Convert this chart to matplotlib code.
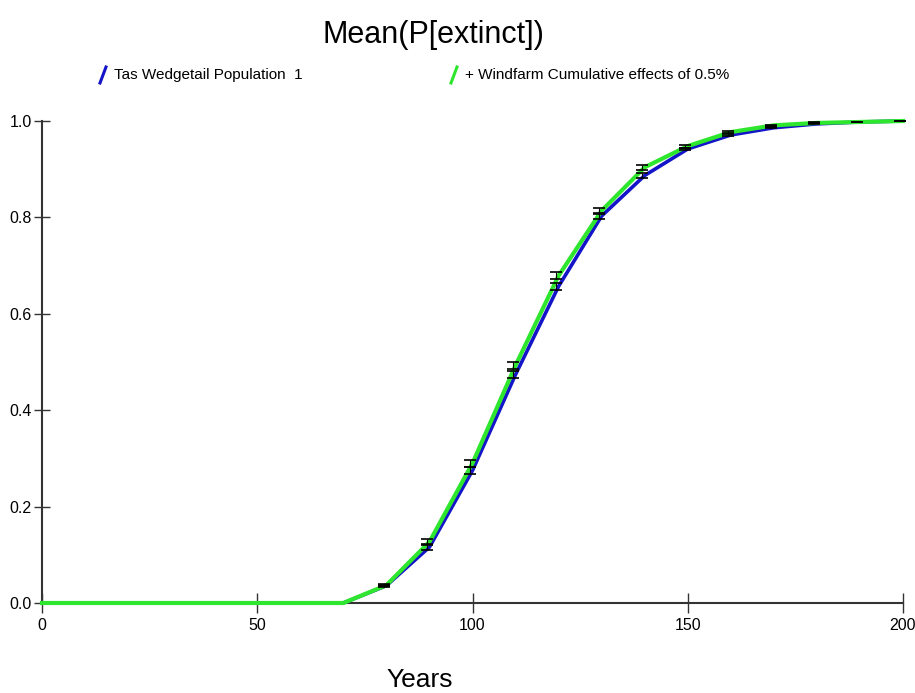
import matplotlib
matplotlib.use("Agg")
import matplotlib.pyplot as plt
from matplotlib.lines import Line2D

years = [0, 10, 20, 30, 40, 50, 60, 70, 80, 90, 100, 110, 120, 130, 140, 150, 160, 170, 180, 190, 200]
base = [0, 0, 0, 0, 0, 0, 0, 0, 0.036, 0.116, 0.275, 0.474, 0.657, 0.803, 0.887, 0.942, 0.971, 0.986, 0.994, 0.998, 1.0]
windfarm = [0, 0, 0, 0, 0, 0, 0, 0, 0.037, 0.127, 0.290, 0.493, 0.679, 0.814, 0.904, 0.948, 0.977, 0.991, 0.996, 0.998, 1.0]
err_base = [0, 0, 0, 0, 0, 0, 0, 0, 0.002, 0.006, 0.007, 0.007, 0.007, 0.006, 0.005, 0.003, 0.002, 0.001, 0.001, 0.0005, 0.0]
err_wind = [0, 0, 0, 0, 0, 0, 0, 0, 0.002, 0.006, 0.007, 0.007, 0.007, 0.006, 0.005, 0.003, 0.002, 0.001, 0.001, 0.0005, 0.0]
series_labels = ["Tas Wedgetail Population  1", "+ Windfarm Cumulative effects of 0.5%"]
xticks = [0, 50, 100, 150, 200]
yticks = [0.0, 0.2, 0.4, 0.6, 0.8, 1.0]

FONT = ['Liberation Sans Narrow', 'Liberation Sans', 'DejaVu Sans']
plt.rcParams['font.family'] = FONT

BLUE = '#1414c8'
GREEN = '#2ee62e'

fig = plt.figure(figsize=(9.15, 6.93), dpi=100)
ax = fig.add_axes([42/915, 1-603/693, (903-42)/915, (603-121)/693])

ax.plot(years, base, color=BLUE, lw=2.6, zorder=3, clip_on=False, solid_joinstyle='round')
ax.plot(years, windfarm, color=GREEN, lw=3.0, zorder=4, clip_on=False, solid_joinstyle='round')

idx = [i for i, y in enumerate(years) if y >= 80]
ax.errorbar([years[i] - 0.6 for i in idx], [base[i] for i in idx], yerr=[err_base[i] for i in idx],
            fmt='none', ecolor='black', elinewidth=0.8, capsize=4.5, capthick=1.2, zorder=5, clip_on=False)
ax.errorbar([years[i] - 0.6 for i in idx], [windfarm[i] for i in idx], yerr=[err_wind[i] for i in idx],
            fmt='none', ecolor='black', elinewidth=0.8, capsize=4.5, capthick=1.2, zorder=5, clip_on=False)

ax.set_xlim(0, 200)
ax.set_ylim(0, 1.0)
ax.set_xticks(xticks)
ax.set_xticklabels([str(x) for x in xticks])
ax.set_yticks(yticks)
ax.set_yticklabels([f"{y:.1f}" for y in yticks])
for s in ['top', 'right']:
    ax.spines[s].set_visible(False)
for s in ['left', 'bottom']:
    ax.spines[s].set_color('#333333')
    ax.spines[s].set_linewidth(1.5)
ax.tick_params(axis='x', direction='inout', length=15, width=1.0, colors='#333333', labelcolor='black', labelsize=11.5, pad=3)
ax.tick_params(axis='y', direction='inout', length=11, width=1.0, colors='#333333', labelcolor='black', labelsize=11.5, pad=2)

fig.text(420/915, 1-680/693, "Years", fontsize=19, ha='center', va='center')
fig.text(433/915, 1-35/693, "Mean(P[extinct])", fontsize=22, ha='center', va='center')

# legend
def legend_item(x, y, color, text):
    fig.add_artist(Line2D([x/915, (x+6)/915], [1-(y+8)/693, 1-(y-8)/693], color=color, lw=2.2))
    fig.text((x+14)/915, 1-y/693, text, fontsize=11, ha='left', va='center')

legend_item(100, 75, BLUE, series_labels[0])
legend_item(451, 75, GREEN, series_labels[1])

fig.savefig("out.png", dpi=100)
